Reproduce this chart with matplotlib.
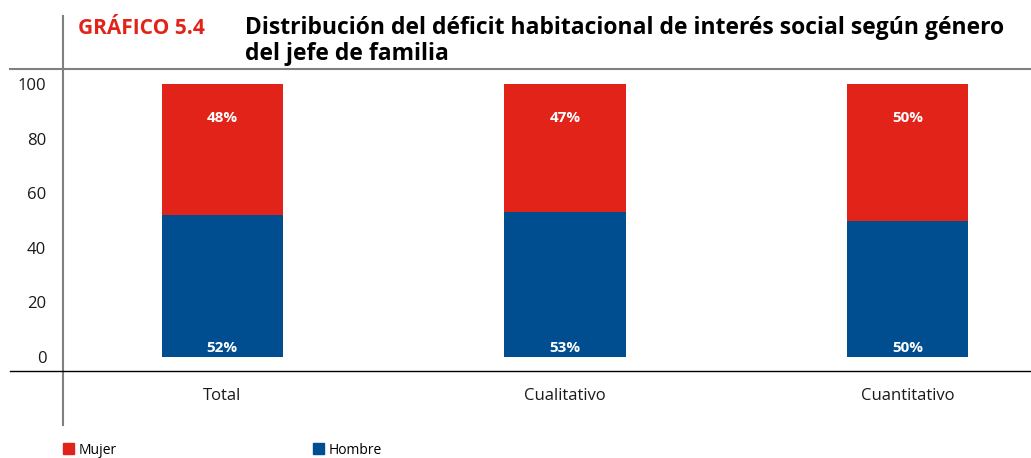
import matplotlib
matplotlib.use("Agg")
import matplotlib.pyplot as plt
from matplotlib.lines import Line2D
from matplotlib.patches import Patch

# datos del gráfico 5.4
categorias = ["Total", "Cualitativo", "Cuantitativo"]
hombre = [52, 53, 50]
mujer = [48, 47, 50]
yticks = [0, 20, 40, 60, 80, 100]

ROJO = "#E2231A"
AZUL = "#004E8F"
GRIS = "#808080"

plt.rcParams['font.family'] = ['Open Sans', 'DejaVu Sans']

W, H = 1031, 458
fig = plt.figure(figsize=(W / 100, H / 100), dpi=100)

def px(x0, y0, x1, y1):
    # rectangulo en pixeles -> coordenadas de figura
    return [x0 / W, 1 - y1 / H, (x1 - x0) / W, (y1 - y0) / H]

ax = fig.add_axes(px(63, 69, 1031, 371))
x = list(range(len(categorias)))
ancho = 0.354
ax.bar(x, hombre, width=ancho, color=AZUL, label="Hombre")
ax.bar(x, mujer, width=ancho, bottom=hombre, color=ROJO, label="Mujer")

for i in x:
    ax.annotate(f"{hombre[i]}%", (i, 0), xytext=(0, 9), textcoords="offset pixels",
                ha="center", va="center", color="white", fontsize=11, fontweight="bold")
    ax.annotate(f"{mujer[i]}%", (i, hombre[i] + mujer[i]), xytext=(0, -34),
                textcoords="offset pixels", ha="center", va="center",
                color="white", fontsize=11, fontweight="bold")

ax.set_xlim(-0.465, 2.36)
ax.set_ylim(-5.13, 105.5)
ax.set_yticks(yticks)
ax.set_yticklabels([str(v) for v in yticks], fontsize=12)
ax.set_xticks(x)
ax.set_xticklabels(categorias, fontsize=12)
ax.tick_params(axis="both", length=0, colors="#1a1a1a")
ax.tick_params(axis="y", pad=12)
ax.tick_params(axis="x", pad=12)
for s in ax.spines.values():
    s.set_visible(False)

# líneas de marco
fig.add_artist(Line2D([63 / W, 63 / W], [1 - 16 / H, 1 - 425 / H], color=GRIS, lw=1.5))
fig.add_artist(Line2D([10 / W, 1], [1 - 69 / H, 1 - 69 / H], color=GRIS, lw=1.5))
fig.add_artist(Line2D([10 / W, 1], [1 - 371 / H, 1 - 371 / H], color="black", lw=1.0))

# títulos
fig.text(78 / W, 1 - 28 / H, "GRÁFICO 5.4", color=ROJO, fontsize=15,
         fontweight="bold", va="center", ha="left")
fig.text(245 / W, 1 - 41 / H, "Distribución del déficit habitacional de interés social según género\ndel jefe de familia",
         color="black", fontsize=16.5, fontweight="bold", va="center", ha="left",
         linespacing=1.1)

# leyenda
handles = [Patch(color=ROJO, label="Mujer"), Patch(color=AZUL, label="Hombre")]
fig.legend(handles=handles, loc="center left", bbox_to_anchor=(63 / W, 1 - 450 / H),
           ncol=2, frameon=False, fontsize=10, handlelength=0.8, handleheight=0.8,
           handletextpad=0.35, columnspacing=14.1, borderaxespad=0, borderpad=0)

fig.savefig("out.png", dpi=100)
